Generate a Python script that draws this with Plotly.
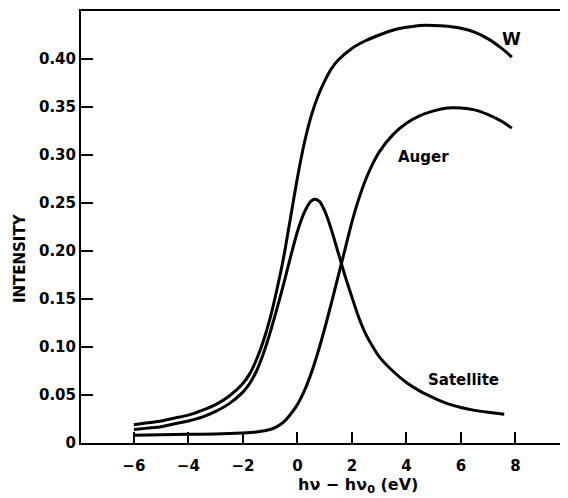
import plotly.graph_objects as go

# ---- data ----
w_x = [-6, -5.5, -5, -4.5, -4, -3.5, -3, -2.5, -2, -1.75, -1.5, -1.25, -1, -0.75, -0.5, -0.25, 0, 0.25, 0.5, 0.75, 1.0, 1.25, 1.5, 2.0, 2.5, 3.0, 3.5, 4.0, 4.5, 5.0, 5.5, 6.0, 6.5, 7.0, 7.5, 7.87]
w_y = [0.019, 0.021, 0.023, 0.026, 0.029, 0.034, 0.040, 0.049, 0.062, 0.072, 0.087, 0.106, 0.130, 0.160, 0.194, 0.235, 0.276, 0.312, 0.340, 0.361, 0.377, 0.390, 0.399, 0.411, 0.419, 0.425, 0.430, 0.433, 0.435, 0.435, 0.434, 0.432, 0.428, 0.421, 0.411, 0.402]

sat_x = [-6, -5.5, -5, -4.5, -4, -3.5, -3, -2.5, -2, -1.75, -1.5, -1.25, -1, -0.75, -0.5, -0.25, 0, 0.25, 0.5, 0.65, 0.8, 1.0, 1.25, 1.5, 1.75, 2.0, 2.25, 2.5, 2.75, 3.0, 3.5, 4.0, 4.5, 5.0, 5.5, 6.0, 6.5, 7.0, 7.59]
sat_y = [0.014, 0.0155, 0.017, 0.020, 0.023, 0.027, 0.033, 0.041, 0.053, 0.062, 0.075, 0.093, 0.115, 0.140, 0.166, 0.194, 0.220, 0.240, 0.252, 0.254, 0.252, 0.242, 0.222, 0.198, 0.174, 0.152, 0.131, 0.114, 0.101, 0.090, 0.075, 0.063, 0.054, 0.047, 0.041, 0.037, 0.034, 0.032, 0.030]

aug_x = [-6, -5, -4, -3, -2, -1.5, -1.0, -0.75, -0.5, -0.25, 0, 0.25, 0.5, 0.75, 1.0, 1.25, 1.5, 1.75, 2.0, 2.25, 2.5, 2.75, 3.0, 3.5, 4.0, 4.5, 5.0, 5.5, 6.0, 6.5, 7.0, 7.5, 7.87]
aug_y = [0.008, 0.0085, 0.009, 0.0095, 0.0105, 0.0115, 0.014, 0.017, 0.022, 0.030, 0.040, 0.054, 0.072, 0.094, 0.119, 0.146, 0.174, 0.202, 0.230, 0.254, 0.274, 0.290, 0.303, 0.321, 0.333, 0.341, 0.346, 0.349, 0.349, 0.347, 0.342, 0.335, 0.328]

x_ticks = [-6, -4, -2, 0, 2, 4, 6, 8]
x_tick_labels = ["\u22126", "\u22124", "\u22122", "0", "2", "4", "6", "8"]
y_ticks = [0, 0.05, 0.10, 0.15, 0.20, 0.25, 0.30, 0.35, 0.40]
y_tick_labels = ["0", "0.05", "0.10", "0.15", "0.20", "0.25", "0.30", "0.35", "0.40"]

FONT = "DejaVu Sans"
line = dict(color="black", width=3, shape="spline", smoothing=0.6)

fig = go.Figure()
fig.add_trace(go.Scatter(x=w_x, y=w_y, mode="lines", line=line, name="W"))
fig.add_trace(go.Scatter(x=sat_x, y=sat_y, mode="lines", line=line, name="Satellite"))
fig.add_trace(go.Scatter(x=aug_x, y=aug_y, mode="lines", line=line, name="Auger"))

tickfont = dict(family=FONT, size=15, color="black", weight="bold")

# the page body adds an 8px margin, so the figure is 8px smaller than the window
fig.update_layout(
    width=560, height=490,
    margin=dict(l=73, r=3, t=3, b=55),
    paper_bgcolor="white", plot_bgcolor="white",
    showlegend=False,
    xaxis=dict(range=[-7.94, 9.82], tickvals=x_ticks, ticktext=x_tick_labels,
               ticks="inside", ticklen=11, tickwidth=2, tickcolor="black",
               showline=True, linecolor="black", linewidth=2, mirror=True,
               showgrid=False, zeroline=False, tickfont=tickfont,
               ticklabelstandoff=8, automargin=False),
    yaxis=dict(range=[0, 0.45], tickvals=y_ticks, ticktext=y_tick_labels,
               ticks="inside", ticklen=12, tickwidth=2, tickcolor="black",
               showline=True, linecolor="black", linewidth=2, mirror=True,
               showgrid=False, zeroline=False, tickfont=tickfont,
               automargin=False),
)

fig.add_annotation(x=7.87, y=0.421, text="W", showarrow=False,
                   font=dict(family=FONT, size=17, color="black", weight="bold"))
fig.add_annotation(x=4.62, y=0.298, text="Auger", showarrow=False,
                   font=dict(family=FONT, size=15, color="black", weight="bold"))
fig.add_annotation(x=6.09, y=0.066, text="Satellite", showarrow=False,
                   font=dict(family=FONT, size=15, color="black", weight="bold"))

fig.add_annotation(xref="paper", yref="paper", x=0.572, y=-0.127, yanchor="bottom",
                   text="h\u03bd \u2212 h\u03bd<sub>0</sub> (eV)", showarrow=False,
                   font=dict(family=FONT, size=16, color="black", weight="bold"))
fig.add_annotation(xref="paper", yref="paper", x=-0.126, y=0.428, xanchor="center", yanchor="middle",
                   text="INTENSITY", textangle=-90, showarrow=False,
                   font=dict(family=FONT, size=15, color="black", weight="bold"))

fig.write_html("out.html")
